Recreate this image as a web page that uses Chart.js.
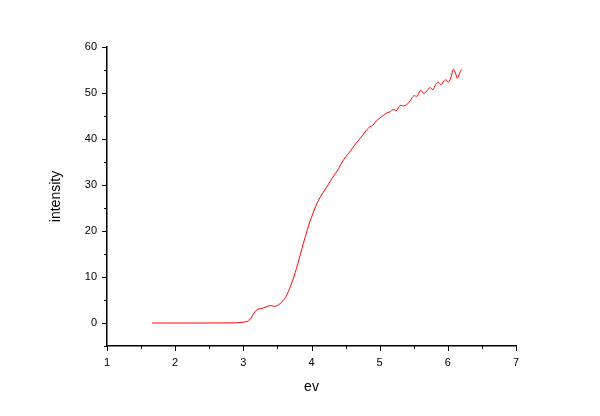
<!DOCTYPE html>
<html lang="en">
<head>
    <meta charset="UTF-8">
    <title>intensity vs ev</title>
    <style>
        html, body { margin: 0; padding: 0; background: #fff; }
        #wrap { width: 600px; height: 416px; }
    </style>
</head>
<body>
    <div id="wrap"><canvas id="lineChart" width="600" height="416"></canvas></div>
    <script src="https://cdn.jsdelivr.net/npm/chart.js"></script>
    <script>
        // spectrum
        const evValues = [1.66, 2.0, 2.5, 2.9, 3.0, 3.05, 3.10, 3.15, 3.20, 3.25, 3.30, 3.35, 3.40, 3.46, 3.52,
            3.58, 3.62, 3.66, 3.70, 3.74, 3.78, 3.82, 3.86, 3.90, 3.94, 3.98, 4.02, 4.06, 4.10, 4.15,
            4.20, 4.25, 4.30, 4.35, 4.40, 4.45, 4.50, 4.55, 4.60, 4.65, 4.70, 4.75, 4.80, 4.85, 4.90,
            4.95, 5.00, 5.05, 5.10, 5.15, 5.20, 5.25, 5.30, 5.35, 5.40, 5.45, 5.50, 5.55, 5.60, 5.65,
            5.70, 5.74, 5.78, 5.82, 5.86, 5.90, 5.94, 5.97, 6.01, 6.05, 6.08, 6.11, 6.14, 6.17, 6.20];
        const intensityValues = [0, 0, 0, 0.05, 0.2, 0.3, 0.8, 2.0, 2.9, 3.1, 3.3, 3.6, 3.8, 3.6, 4.0,
            4.8, 5.6, 6.8, 8.3, 10.0, 11.9, 14.0, 16.2, 18.3, 20.3, 22.2, 23.8, 25.3, 26.6, 27.9,
            29.0, 30.2, 31.4, 32.5, 33.6, 35.0, 36.1, 37.0, 38.0, 39.0, 39.9, 40.8, 41.8, 42.6, 43.0,
            43.9, 44.5, 45.1, 45.6, 45.9, 46.4, 46.2, 47.3, 47.2, 47.5, 48.4, 49.4, 49.3, 50.6, 49.9,
            50.6, 51.2, 50.7, 51.8, 52.3, 51.8, 52.6, 52.9, 52.3, 53.6, 55.2, 54.4, 53.2, 54.2, 55.1];

        const xTicks = [1, 2, 3, 4, 5, 6, 7];
        const yTicks = [0, 10, 20, 30, 40, 50, 60];

        const points = evValues.map((x, i) => ({ x: x, y: intensityValues[i] }));

        // outward tick marks, long on labelled ticks, short on the halfway ones
        const tickMarks = {
            id: 'tickMarks',
            afterDraw(chart) {
                const ctx = chart.ctx;
                const area = chart.chartArea;
                ctx.save();
                ctx.strokeStyle = '#000';
                ctx.lineWidth = 1;
                chart.scales.x.ticks.forEach(t => {
                    const px = Math.round(chart.scales.x.getPixelForValue(t.value)) + 0.5;
                    const len = xTicks.includes(t.value) ? 5 : 3;
                    ctx.beginPath();
                    ctx.moveTo(px, area.bottom);
                    ctx.lineTo(px, area.bottom + len);
                    ctx.stroke();
                });
                chart.scales.y.ticks.forEach(t => {
                    const py = Math.round(chart.scales.y.getPixelForValue(t.value)) + 0.5;
                    const len = yTicks.includes(t.value) ? 5 : 3;
                    ctx.beginPath();
                    ctx.moveTo(area.left, py);
                    ctx.lineTo(area.left - len, py);
                    ctx.stroke();
                });
                ctx.restore();
            }
        };

        const font = { family: 'Liberation Sans, Arial, sans-serif', size: 11 };
        const titleFont = { family: 'Liberation Sans, Arial, sans-serif', size: 14 };

        new Chart(document.getElementById('lineChart').getContext('2d'), {
            type: 'line',
            data: {
                datasets: [{
                    data: points,
                    borderColor: '#ff0000',
                    borderWidth: 1,
                    pointRadius: 0,
                    fill: false,
                    tension: 0.3
                }]
            },
            options: {
                responsive: false,
                animation: false,
                events: [],
                layout: { padding: { left: 40, top: 47, right: 84, bottom: 14 } },
                plugins: { legend: { display: false }, tooltip: { enabled: false } },
                scales: {
                    x: {
                        type: 'linear',
                        min: 1,
                        max: 7,
                        afterFit: s => { s.height = 56; },
                        ticks: {
                            stepSize: 0.5,
                            color: '#000',
                            font: font,
                            padding: 10,
                            maxRotation: 0,
                            autoSkip: false,
                            callback: v => xTicks.includes(v) ? String(v) : ''
                        },
                        grid: { drawOnChartArea: false, drawTicks: false },
                        border: { color: '#000', width: 1.5 },
                        title: { display: true, text: 'ev', color: '#000', font: titleFont, padding: { top: 4, bottom: 6 } }
                    },
                    y: {
                        min: -5,
                        max: 60,
                        afterFit: s => { s.width = 67; },
                        ticks: {
                            stepSize: 5,
                            color: '#000',
                            font: font,
                            padding: 10,
                            autoSkip: false,
                            callback: v => yTicks.includes(v) ? String(v) : ''
                        },
                        grid: { drawOnChartArea: false, drawTicks: false },
                        border: { color: '#000', width: 1.5 },
                        title: { display: true, text: 'intensity', color: '#000', font: titleFont, padding: { top: 8, bottom: 4 } }
                    }
                }
            },
            plugins: [tickMarks]
        });
    </script>
</body>
</html>
